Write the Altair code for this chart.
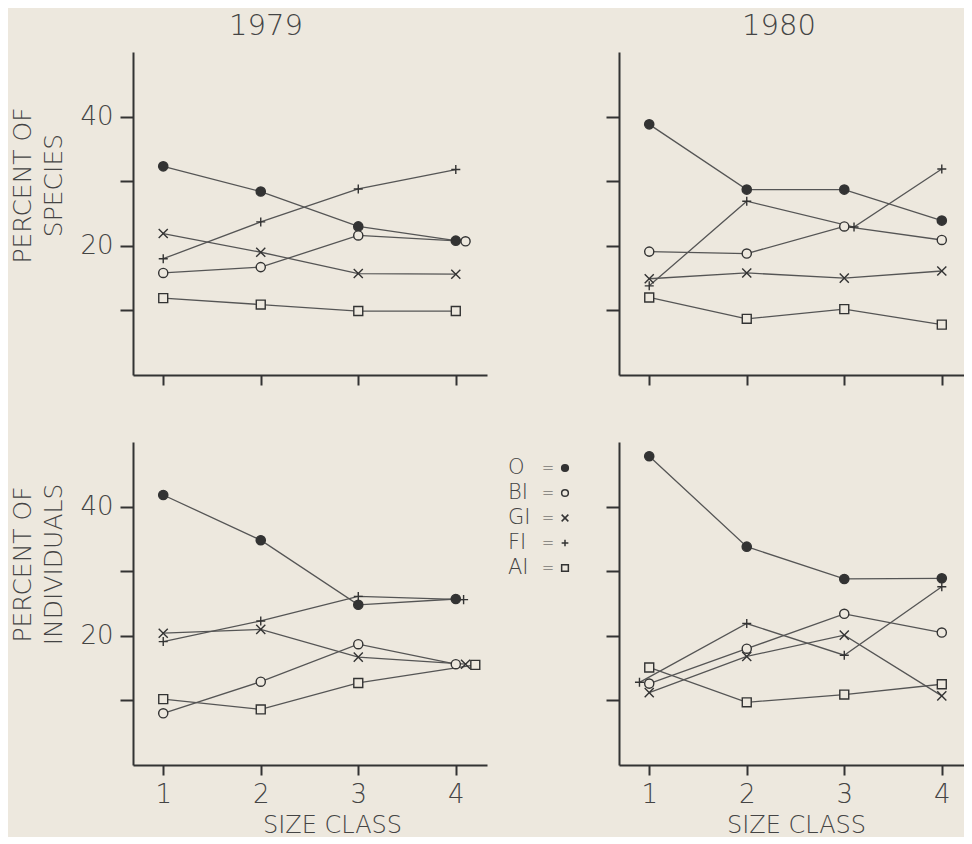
import altair as alt
import pandas as pd

size_class = [1, 2, 3, 4]
groups = ["O", "BI", "GI", "FI", "AI"]

# 1979 - percent of species
sp79 = {
    "O": [32.3, 28.4, 23.0, 20.8],
    "BI": [15.8, 16.7, 21.6, 20.7],
    "GI": [21.9, 19.0, 15.7, 15.6],
    "FI": [18.0, 23.7, 28.8, 31.8],
    "AI": [11.9, 10.9, 9.9, 9.9],
}
sp79_x = {"BI": [1, 2, 3, 4.1]}

# 1980 - percent of species
sp80 = {
    "O": [38.8, 28.7, 28.7, 23.9],
    "BI": [19.1, 18.8, 23.0, 20.9],
    "GI": [14.9, 15.8, 15.0, 16.1],
    "FI": [13.8, 26.9, 22.9, 31.9],
    "AI": [12.0, 8.7, 10.2, 7.8],
}
sp80_x = {"FI": [1, 2, 3.1, 4]}

# 1979 - percent of individuals
in79 = {
    "O": [41.8, 34.8, 24.8, 25.7],
    "BI": [8.0, 12.9, 18.7, 15.6],
    "GI": [20.4, 21.0, 16.7, 15.6],
    "FI": [19.1, 22.3, 26.1, 25.6],
    "AI": [10.2, 8.6, 12.7, 15.5],
}
in79_x = {"GI": [1, 2, 3, 4.1], "FI": [1, 2, 3, 4.08], "AI": [1, 2, 3, 4.2]}

# 1980 - percent of individuals
in80 = {
    "O": [47.8, 33.8, 28.8, 28.9],
    "BI": [12.6, 18.0, 23.4, 20.5],
    "GI": [11.2, 16.8, 20.1, 10.7],
    "FI": [12.8, 21.9, 17.0, 27.6],
    "AI": [15.1, 9.7, 10.9, 12.5],
}
in80_x = {"FI": [0.9, 2, 3, 4]}

rows = []
for year, measure, vals, xs in [
    ("1979", "species", sp79, sp79_x),
    ("1980", "species", sp80, sp80_x),
    ("1979", "individuals", in79, in79_x),
    ("1980", "individuals", in80, in80_x),
]:
    for g in groups:
        xpos = xs.get(g, size_class)
        for xv, yv in zip(xpos, vals[g]):
            rows.append({"year": year, "measure": measure, "group": g, "x": xv, "y": yv})
df = pd.DataFrame(rows)

BG = "#ede8de"
INK = "#333333"
TXT = "#444444"
FONT = "DejaVu Sans"
FW = 200

shape_range = [
    "circle",
    "circle",
    "M-1,-1L1,1M-1,1L1,-1",
    "M-1,0L1,0M0,-1L0,1",
    "square",
]
fill_range = [INK, BG, BG, BG, BG]
size_range = [85, 80, 55, 55, 60]

H = 323
PX_PER_UNIT = 354 / (4.32 - 0.69)


def panel(year, measure, top, left):
    d = df[(df["year"] == year) & (df["measure"] == measure)]
    base = alt.Chart(d)
    w = 354 if left else 345
    xmax = 0.69 + w / PX_PER_UNIT
    if top:
        xaxis = alt.Axis(values=size_class, labels=False, tickSize=10)
        xtitle = None
    else:
        xaxis = alt.Axis(values=size_class, format="d", tickSize=10, labelPadding=6,
                         titleX=199 if left else 177, titlePadding=6,
                         titleFontSize=24)
        xtitle = "SIZE CLASS"
    if left:
        yaxis = alt.Axis(values=[10, 20, 30, 40],
                         labelExpr="datum.value % 20 == 0 ? datum.label : ''",
                         tickSize=13, labelPadding=7, titlePadding=13,
                         titleY=133 if top else 122)
        ytitle = ["PERCENT OF", "SPECIES"] if top else ["PERCENT OF", "INDIVIDUALS"]
    else:
        yaxis = alt.Axis(values=[10, 20, 30, 40], labels=False, tickSize=13)
        ytitle = None
    x = alt.X("x:Q", scale=alt.Scale(domain=[0.69, xmax], nice=False, zero=False),
              axis=xaxis, title=xtitle)
    y = alt.Y("y:Q", scale=alt.Scale(domain=[0, 50], nice=False), axis=yaxis, title=ytitle)
    lines = base.mark_line(color="#555555", strokeWidth=1.3).encode(
        x=x, y=y, detail="group:N")
    pts = base.mark_point(filled=False, opacity=1, strokeWidth=1.4, stroke=INK).encode(
        x=x, y=y,
        shape=alt.Shape("group:N", scale=alt.Scale(domain=groups, range=shape_range), legend=None),
        fill=alt.Fill("group:N", scale=alt.Scale(domain=groups, range=fill_range), legend=None),
        size=alt.Size("group:N", scale=alt.Scale(domain=groups, range=size_range), legend=None),
    )
    layers = [lines, pts]
    if top:
        td = alt.Data(values=[{"t": year}])
        layers.append(alt.Chart(td).mark_text(
            align="center", baseline="alphabetic", fontSize=29, font=FONT,
            fontWeight=FW, color=TXT).encode(
            text="t:N", x=alt.value(133 if left else 160), y=alt.value(-17)))
    if not top and not left:
        for i, g in enumerate(groups):
            yy = 26 + 25 * i
            ld = alt.Data(values=[{"t": g, "e": "=", "g": g}])
            layers.append(alt.Chart(ld).mark_text(
                align="left", baseline="middle", fontSize=21, font=FONT,
                fontWeight=FW, color=TXT).encode(
                text="t:N", x=alt.value(-111), y=alt.value(yy)))
            layers.append(alt.Chart(ld).mark_text(
                align="center", baseline="middle", fontSize=15, font=FONT,
                fontWeight=FW, color=TXT).encode(
                text="e:N", x=alt.value(-71), y=alt.value(yy)))
            layers.append(alt.Chart(ld).mark_point(
                filled=False, opacity=1, strokeWidth=1.5, stroke=INK).encode(
                x=alt.value(-54), y=alt.value(yy),
                shape=alt.Shape("g:N", scale=alt.Scale(domain=groups, range=shape_range), legend=None),
                fill=alt.Fill("g:N", scale=alt.Scale(domain=groups, range=fill_range), legend=None),
                size=alt.value(45)))
    return alt.layer(*layers).properties(width=w, height=H)


p1 = panel("1979", "species", True, True)
p2 = panel("1980", "species", True, False)
p3 = panel("1979", "individuals", False, True)
p4 = panel("1980", "individuals", False, False)

chart = alt.concat(p1, p2, p3, p4, columns=2, spacing={"row": 67, "column": 132},
                   bounds="flush").properties(
    padding={"left": 2, "top": 4, "right": 0, "bottom": 0},
).configure(
    background=BG,
).configure_view(stroke=None).configure_axis(
    grid=False,
    domainColor=INK, domainWidth=2,
    tickColor=INK, tickWidth=2,
    labelFont=FONT, labelFontSize=26, labelFontWeight=FW, labelColor=TXT,
    titleFont=FONT, titleFontSize=25, titleFontWeight=FW, titleColor=TXT,
    titleLineHeight=31,
)

chart.save("out.html", embed_options={"renderer": "svg", "actions": False})
